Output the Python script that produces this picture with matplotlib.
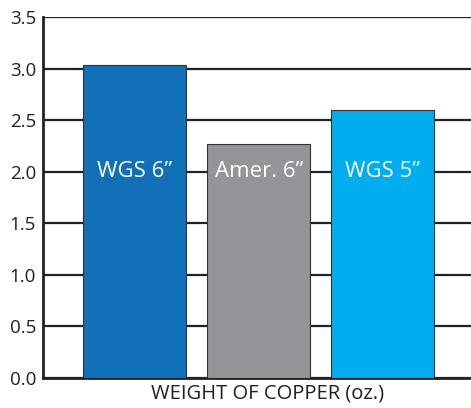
import matplotlib.pyplot as plt

plt.rcParams['font.family'] = ['Open Sans', 'DejaVu Sans']

labels = ['WGS 6\u201d', 'Amer. 6\u201d', 'WGS 5\u201d']
weights = [3.03, 2.27, 2.60]
colors = ['#1170b8', '#939598', '#00adee']

fig = plt.figure(figsize=(4.71, 4.08), dpi=100)
ax = fig.add_axes([43 / 471, 30 / 408, 428 / 471, 361 / 408])

ax.set_axisbelow(True)
ax.yaxis.grid(True, color='#222222', linewidth=1.6)
bars = ax.bar(range(len(labels)), weights, width=0.83, color=colors,
              edgecolor='#333333', linewidth=0.8, zorder=3)

for i, lab in enumerate(labels):
    ax.text(i, 2.0, lab, color='white', fontsize=16, ha='center', va='center', zorder=4)

ax.set_xlim(-0.74, 2.71)
ax.set_ylim(0, 3.5)
ax.set_yticks([0, 0.5, 1.0, 1.5, 2.0, 2.5, 3.0, 3.5])
ax.set_yticklabels(['0.0', '0.5', '1.0', '1.5', '2.0', '2.5', '3.0', '3.5'], fontsize=13.5, color='#231f20')
ax.tick_params(axis='y', length=0, pad=5)
ax.set_xticks([])
for s in ['top', 'right']:
    ax.spines[s].set_visible(False)
ax.spines['left'].set_linewidth(2)
ax.spines['bottom'].set_linewidth(2)
ax.spines['left'].set_color('#222222')
ax.spines['bottom'].set_color('#222222')

fig.text(268 / 471, 4 / 408, 'WEIGHT OF COPPER (oz.)', fontsize=14.5, color='#231f20',
         ha='center', va='bottom')

fig.savefig('out.png', dpi=100)
